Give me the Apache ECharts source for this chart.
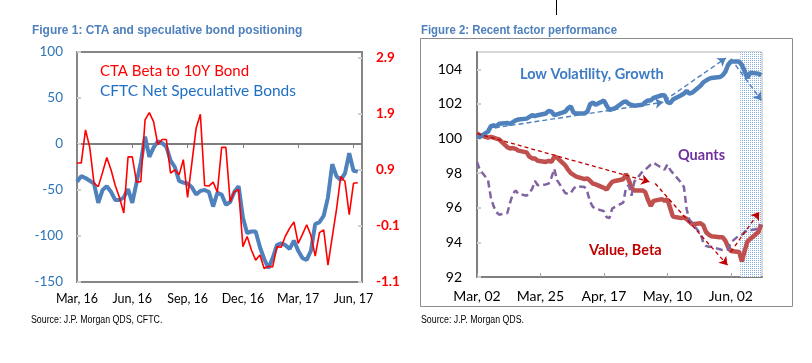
<!DOCTYPE html>
<html>
<head>
<meta charset="utf-8">
<script src="https://cdn.jsdelivr.net/npm/echarts@6/dist/echarts.min.js"></script>
<style>
html,body{margin:0;padding:0;background:#fff;}
#c{width:812px;height:363px;}
</style>
</head>
<body>
<div id="c"></div>
<script>
// ---------- Figure 1 data (weekly) ----------
const weeks = ['2016-03-01','2016-03-08','2016-03-15','2016-03-22','2016-03-29','2016-04-05','2016-04-12','2016-04-19','2016-04-26','2016-05-03','2016-05-10','2016-05-17','2016-05-24','2016-05-31','2016-06-07','2016-06-14','2016-06-21','2016-06-28','2016-07-05','2016-07-12','2016-07-19','2016-07-26','2016-08-02','2016-08-09','2016-08-16','2016-08-23','2016-08-30','2016-09-06','2016-09-13','2016-09-20','2016-09-27','2016-10-04','2016-10-11','2016-10-18','2016-10-25','2016-11-01','2016-11-08','2016-11-15','2016-11-22','2016-11-29','2016-12-06','2016-12-13','2016-12-20','2016-12-27','2017-01-03','2017-01-10','2017-01-17','2017-01-24','2017-01-31','2017-02-07','2017-02-14','2017-02-21','2017-02-28','2017-03-07','2017-03-14','2017-03-21','2017-03-28','2017-04-04','2017-04-11','2017-04-18','2017-04-25','2017-05-02','2017-05-09','2017-05-16','2017-05-23','2017-05-30','2017-06-06','2017-06-13'];
const weekTicks = ['Mar, 16','Jun, 16','Sep, 16','Dec, 16','Mar, 17','Jun, 17'];
const cftcNetSpec = [-41,-35,-37,-40,-43,-64,-50,-46,-52,-61,-61,-58,-49,-64,-42,-20,8,-14,-4,3,1,-3,-18,-25,-40,-42,-43,-47,-55,-51,-50,-52,-68,-53,-55,-66,-63,-52,-46,-80,-97,-95,-95,-112,-125,-135,-124,-110,-108,-110,-114,-105,-116,-124,-126,-116,-87,-85,-78,-58,-22,-35,-39,-32,-10,-29,-30];
const ctaBeta = [1.02,1.02,1.61,1.30,0.66,0.60,0.85,1.12,0.90,0.62,0.40,0.13,1.13,1.13,0.68,0.69,1.79,1.92,1.76,1.35,1.44,1.44,0.84,0.90,0.81,1.08,0.41,1.02,1.64,1.89,0.62,0.61,0.68,0.50,1.30,1.30,0.33,0.51,0.55,-0.47,-0.29,-0.53,-0.71,-0.62,-0.86,-0.82,-0.83,-0.47,-0.48,-0.28,-0.14,-0.03,-0.41,-0.25,-0.08,-0.27,-0.64,-0.22,-0.17,-0.80,-0.30,0.19,0.78,0.69,0.10,0.66,0.67];
const leftTicks = [100,50,0,-50,-100,-150];
const rightTicks = [2.9,1.9,0.9,-0.1,-1.1];

// ---------- Figure 2 data (daily, 2017) ----------
const days = ['03-02','03-03','03-06','03-07','03-08','03-09','03-10','03-13','03-14','03-15','03-16','03-17','03-20','03-21','03-22','03-23','03-24','03-27','03-28','03-29','03-30','03-31',
'04-03','04-04','04-05','04-06','04-07','04-10','04-11','04-12','04-13','04-14','04-17','04-18','04-19','04-20','04-21','04-24','04-25','04-26','04-27','04-28',
'05-01','05-02','05-03','05-04','05-05','05-08','05-09','05-10','05-11','05-12','05-15','05-16','05-17','05-18','05-19','05-22','05-23','05-24','05-25','05-26','05-29','05-30','05-31',
'06-01','06-02','06-05','06-06','06-07','06-08','06-09','06-12','06-13'];
const dayTicks = ['Mar, 02','Mar, 25','Apr, 17','May, 10','Jun, 02'];
const lowVolGrowth = [100.1,100.1,100.4,100.7,100.77,100.7,100.85,100.9,100.85,100.95,101.05,101.1,101.15,101.25,101.35,101.3,101.35,101.45,101.6,101.55,101.35,101.4,
101.55,101.75,101.85,101.5,101.45,101.45,101.55,101.98,102.08,101.95,102.2,101.9,101.65,101.7,101.75,102.1,102.15,102.0,101.95,101.9,
101.95,102.1,102.2,102.2,102.35,102.5,102.5,102.1,102.05,102.25,102.5,102.6,102.75,102.6,102.65,103.05,103.25,103.35,103.45,103.5,103.55,103.65,103.85,
104.25,104.45,104.45,104.25,103.9,103.5,103.8,103.75,103.65];
const valueBeta = [100.3,100.2,100.05,100.1,100.05,100.0,99.95,99.5,99.42,99.45,99.4,99.3,99.2,98.95,98.85,98.85,98.72,98.65,98.72,98.65,98.95,98.9,
98.45,98.2,98.0,97.9,97.8,97.65,97.7,97.55,97.4,97.35,97.15,97.05,97.3,97.5,97.55,97.65,97.95,97.6,97.15,97.0,
97.0,96.9,96.45,96.1,96.4,96.5,96.4,96.5,96.0,95.5,95.4,95.45,95.35,95.2,95.05,95.1,95.0,94.6,94.45,94.35,94.3,94.3,94.1,
93.75,93.5,93.45,92.9,93.5,94.05,94.2,94.6,95.05];
const quants = [98.65,98.2,97.6,96.6,96.1,95.75,95.6,95.7,96.3,96.8,97.0,96.8,96.7,96.85,97.1,97.55,97.3,97.35,97.4,97.75,98.25,97.6,
96.85,96.8,96.85,97.1,97.25,97.2,96.9,96.35,96.05,95.95,95.8,95.45,95.4,95.95,96.05,96.3,97.15,97.3,96.7,97.5,
98.1,98.2,98.35,98.5,98.6,98.3,98.2,98.5,98.2,98.0,97.45,97.2,95.9,95.3,95.1,94.5,94.0,93.8,93.75,93.75,93.6,93.55,93.55,
93.6,94.0,94.4,94.45,94.6,94.7,94.7,94.8,95.0];
// trend arrows [fromDay, fromValue, toDay, toValue] (day = days since Mar 02)
const blueArrows = [[3.6,100.55,67.5,102.1],[68,102.2,90.2,104.65],[92,104.62,103.1,102.2]];
const redArrows = [[0.1,100.28,62.5,97.5],[64.6,97.4,90.8,92.68],[92,93.45,102.3,95.76]];
const shadeStartDay = '06-05';

// ---------- helpers ----------
const base = Date.UTC(2017,2,2);
const dayOffset = s => { const p = s.split('-').map(Number); return (Date.UTC(2017,p[0]-1,p[1]) - base)/86400000; };
const pairs = arr => days.map((d,i)=>[dayOffset(d), arr[i]]);
const arrowLines = arr => arr.map(a => [{coord:[a[0],a[1]]},{coord:[a[2],a[3]]}]);

const pc = document.createElement('canvas');
pc.width = 2; pc.height = 2;
const pctx = pc.getContext('2d');
pctx.fillStyle = '#fff'; pctx.fillRect(0,0,2,2);
pctx.fillStyle = '#86aee3'; pctx.fillRect(0,0,1,1);

const CAL = 'Lato, "Open Sans", sans-serif';
const NARROW = '"Liberation Sans Narrow", "Arial Narrow", "Liberation Sans", sans-serif';
const BLUE_T = '#2E75B6';

const chart = echarts.init(document.getElementById('c'), null, {renderer:'canvas'});
chart.setOption({
  animation:false,
  backgroundColor:'#fff',
  grid:[
    {left:77, right:450, top:52, bottom:81, show:true, borderColor:'#868686', borderWidth:2, containLabel:false},
    {left:477, right:50, top:52, bottom:86, show:true, borderColor:'#b0b0b0', borderWidth:1, containLabel:false}
  ],
  xAxis:[
    {type:'category', gridIndex:0, data:weeks, boundaryGap:false, position:'bottom',
     axisLine:{show:false, onZero:false}, axisTick:{show:false},
     axisLabel:{interval:12, margin:10, fontFamily:CAL, fontSize:12.5, color:'#000',
       formatter:(v,i)=> (i%13===0 && weekTicks[i/13]) ? weekTicks[i/13] : ''}},
    {type:'category', gridIndex:0, data:weeks, boundaryGap:false, position:'top',
     axisLine:{show:true, onZero:true, onZeroAxisIndex:0, lineStyle:{color:'#7f7f7f', width:2}},
     axisTick:{show:true, inside:true, interval:12, length:4, lineStyle:{color:'#7f7f7f'}},
     axisLabel:{show:false}},
    {type:'value', gridIndex:1, min:0, max:103.3, interval:23,
     axisLine:{show:true, onZero:false, lineStyle:{color:'#7f7f7f', width:2}},
     axisTick:{show:true, inside:true, length:4, lineStyle:{color:'#a0a0a0'}},
     splitLine:{show:false},
     axisLabel:{showMaxLabel:false, margin:12, fontFamily:CAL, fontSize:14, color:'#000',
       formatter:v => dayTicks[Math.round(v/23)] !== undefined && Math.abs(v/23 - Math.round(v/23))<1e-6 ? dayTicks[Math.round(v/23)] : ''}}
  ],
  yAxis:[
    {type:'value', gridIndex:0, min:-150, max:100, interval:50, position:'left',
     axisLine:{show:false}, splitLine:{show:false},
     axisTick:{show:true, inside:true, length:4, lineStyle:{color:'#d0d0d0', width:2}},
     axisLabel:{margin:14, fontFamily:CAL, fontSize:13.5, color:BLUE_T}},
    {type:'value', gridIndex:0, min:-1.1, max:3.0, interval:1, position:'right',
     axisLine:{show:false}, splitLine:{show:false},
     axisTick:{show:true, inside:true, length:4, lineStyle:{color:'#d0d0d0', width:2}},
     axisLabel:{margin:14, showMaxLabel:false, fontFamily:CAL, fontSize:13.5, fontWeight:'bold', color:'#FF0000',
       formatter:v => (Math.round(v*10)/10).toFixed(1)}},
    {type:'value', gridIndex:1, min:92, max:105, interval:2, position:'left',
     axisLine:{show:true, lineStyle:{color:'#7f7f7f', width:2}}, splitLine:{show:false},
     axisTick:{show:true, inside:true, length:4, lineStyle:{color:'#d0d0d0', width:2}},
     axisLabel:{margin:15, showMaxLabel:false, fontFamily:CAL, fontSize:14, color:'#000'}}
  ],
  series:[
    {type:'line', name:'CFTC Net Speculative Bonds', xAxisIndex:0, yAxisIndex:0, data:cftcNetSpec,
     showSymbol:false, lineStyle:{color:'#4F81BD', width:4}, itemStyle:{color:'#4F81BD'}},
    {type:'line', name:'CTA Beta to 10Y Bond', xAxisIndex:0, yAxisIndex:1, data:ctaBeta,
     showSymbol:false, lineStyle:{color:'#FF0000', width:1.6}, itemStyle:{color:'#FF0000'}},
    {type:'line', name:'Value, Beta', xAxisIndex:2, yAxisIndex:2, data:pairs(valueBeta),
     showSymbol:false, lineStyle:{color:'#C0504D', width:4.5}, itemStyle:{color:'#C0504D'},
     markArea:{silent:true, itemStyle:{color:{image:pc, repeat:'repeat'}},
       data:[[{xAxis:dayOffset(shadeStartDay)+0.4},{xAxis:'max'}]]},
     markLine:{silent:true, symbol:['none','arrow'], symbolSize:8, label:{show:false},
       lineStyle:{color:'#C00000', type:[4,3], width:1.3}, data:arrowLines(redArrows)}},
    {type:'line', name:'Low Volatility, Growth', xAxisIndex:2, yAxisIndex:2, data:pairs(lowVolGrowth),
     showSymbol:false, lineStyle:{color:'#4F81BD', width:4.5}, itemStyle:{color:'#4F81BD'},
     markLine:{silent:true, symbol:['none','arrow'], symbolSize:8, label:{show:false},
       lineStyle:{color:'#4F81BD', type:[5,3], width:1.4}, data:arrowLines(blueArrows)}},
    {type:'line', name:'Quants', xAxisIndex:2, yAxisIndex:2, data:pairs(quants),
     showSymbol:false, lineStyle:{color:'#8064A2', width:2.5, type:[7,4]}, itemStyle:{color:'#8064A2'}}
  ],
  graphic:[
    {type:'line', shape:{x1:556.5, y1:0, x2:556.5, y2:15}, style:{stroke:'#000', lineWidth:1}},
    {type:'rect', shape:{x:420.5, y:38.5, width:372, height:268}, style:{fill:null, stroke:'#8c8c8c', lineWidth:1}, z:-1},
    {type:'text', x:32, y:31, scaleX:0.955, style:{text:'Figure 1: CTA and speculative bond positioning', font:'bold 12.5px '+NARROW, fill:'#4F81BD', align:'left', verticalAlign:'middle'}},
    {type:'text', x:421, y:31, scaleX:0.91, style:{text:'Figure 2: Recent factor performance', font:'bold 12.5px '+NARROW, fill:'#4F81BD', align:'left', verticalAlign:'middle'}},
    {type:'text', x:31, y:320, scaleX:0.88, style:{text:'Source: J.P. Morgan QDS, CFTC.', font:'10px '+NARROW, fill:'#000', align:'left', verticalAlign:'middle'}},
    {type:'text', x:421, y:320, scaleX:0.88, style:{text:'Source: J.P. Morgan QDS.', font:'10px '+NARROW, fill:'#000', align:'left', verticalAlign:'middle'}},
    {type:'text', x:100, y:71, style:{text:'CTA Beta to 10Y Bond', font:'15px '+CAL, fill:'#FF0000', align:'left', verticalAlign:'middle'}},
    {type:'text', x:100, y:91, style:{text:'CFTC Net Speculative Bonds', font:'15.5px '+CAL, fill:'#1F6FC5', align:'left', verticalAlign:'middle'}},
    {type:'text', x:520, y:74, style:{text:'Low Volatility, Growth', font:'bold 14.5px '+CAL, fill:'#3D7BC6', align:'left', verticalAlign:'middle'}},
    {type:'text', x:678, y:155, style:{text:'Quants', font:'bold 14.5px '+CAL, fill:'#7030A0', align:'left', verticalAlign:'middle'}},
    {type:'text', x:589, y:250, style:{text:'Value, Beta', font:'bold 14.5px '+CAL, fill:'#C00000', align:'left', verticalAlign:'middle'}}
  ]
});
</script>
</body>
</html>
